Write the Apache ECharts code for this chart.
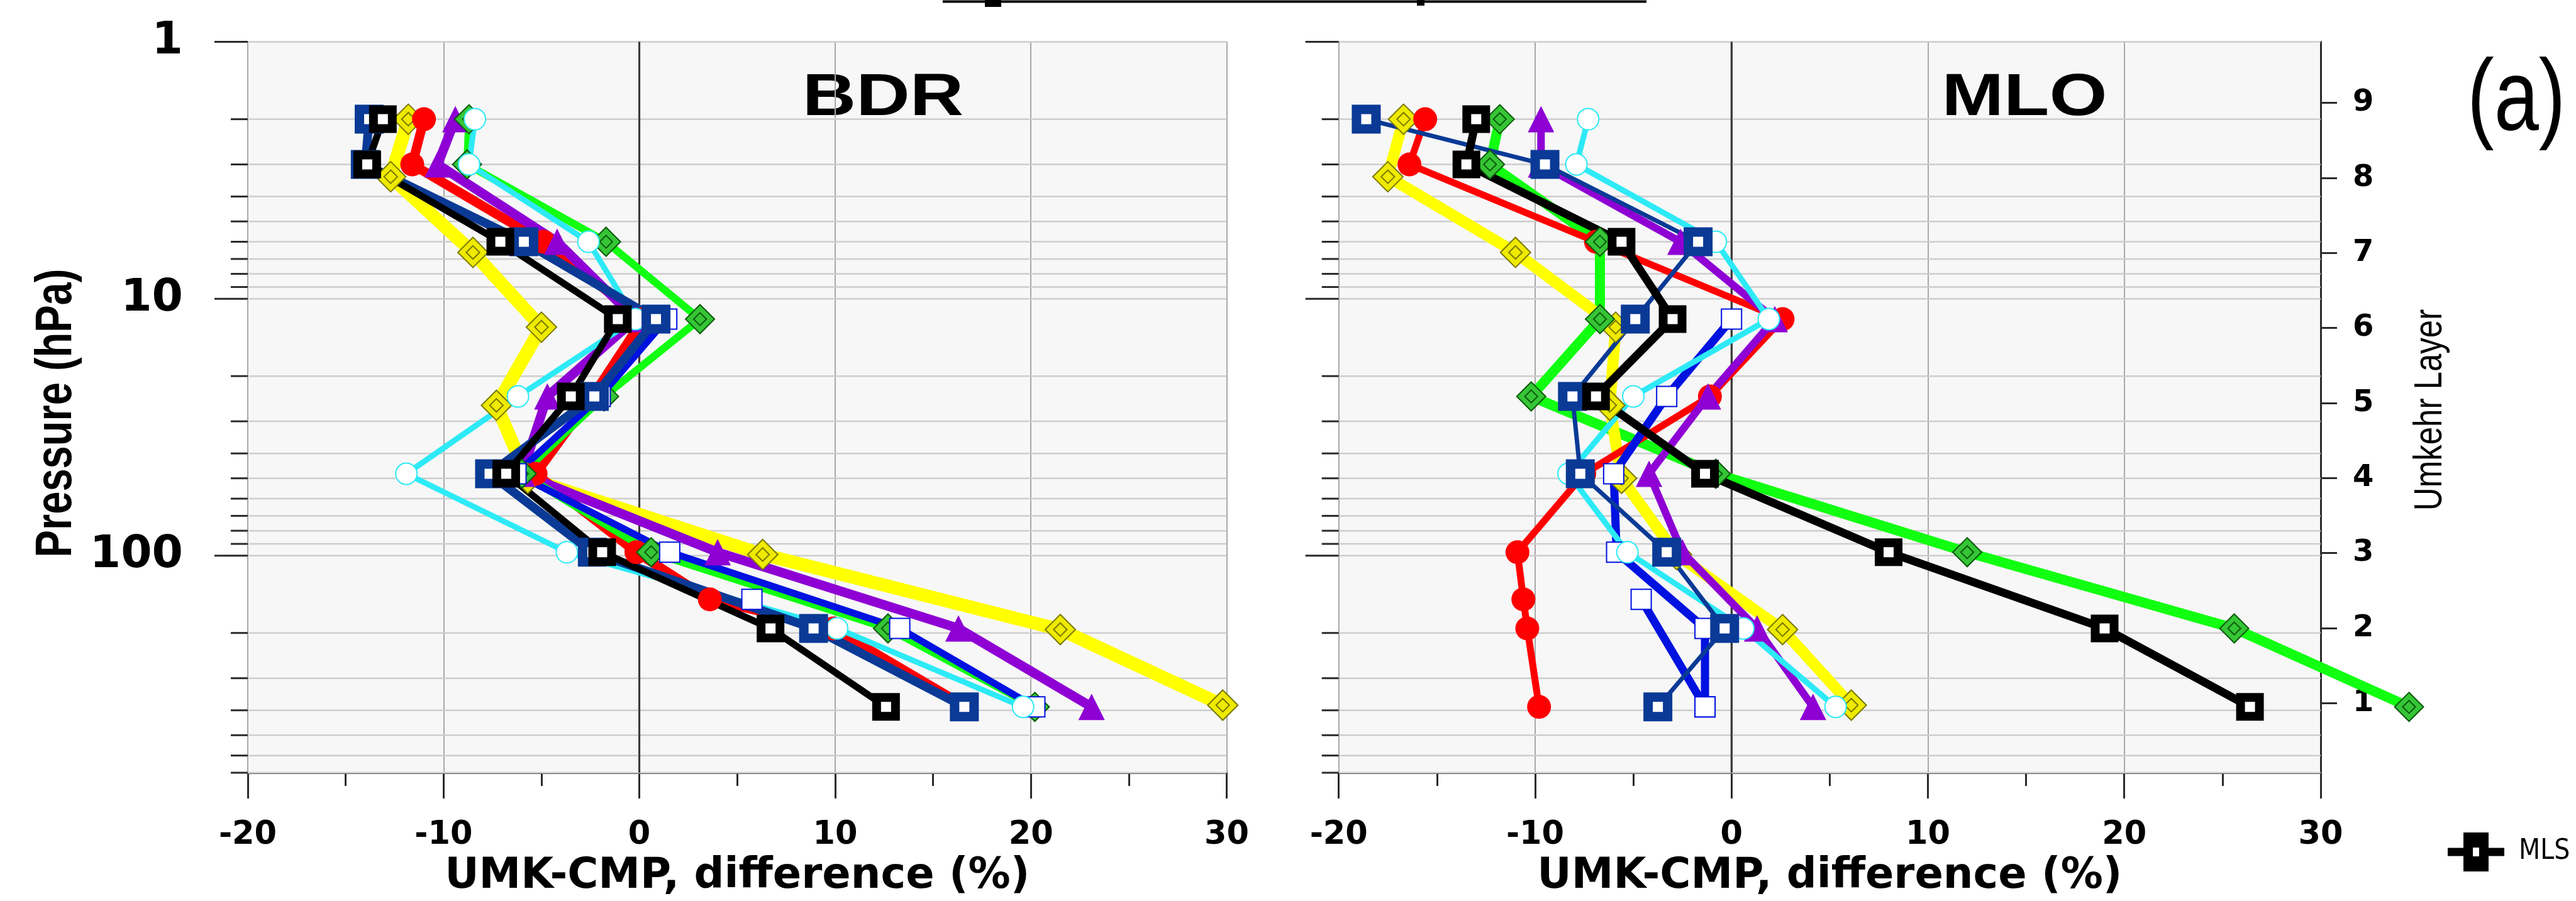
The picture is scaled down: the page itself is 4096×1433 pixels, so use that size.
<!DOCTYPE html>
<html>
<head>
<meta charset="utf-8">
<script src="https://cdn.jsdelivr.net/npm/echarts@6/dist/echarts.min.js"></script>
<style>
  html, body { margin: 0; padding: 0; background: #ffffff; }
  #chart { width: 4096px; height: 1433px; }
</style>
</head>
<body>
<div id="chart"></div>
<script>
// pressure (hPa) of the plotted points, top to bottom
var pLevels = [2, 3, 6, 12, 24, 48, 97, 192, 388];
var pLevelsDiamond = [2, 3.35, 6.6, 12.9, 26, 50, 99, 194, 382];
var pLevelsSonde = [2, 3, 6, 12, 24, 48, 97, 148, 192, 388];
var pLevelsLow = [12, 24, 48, 97, 192, 388];
var pLevelsExtra = [148, 388];

// axes
var xTicks = [-20, -10, 0, 10, 20, 30];
var pressureTicks = [1, 2, 3, 4, 5, 6, 7, 8, 9, 10, 20, 30, 40, 50, 60, 70, 80, 90, 100, 200, 300, 400, 500, 600, 700];
var pressureLabels = [1, 10, 100];
var layerTicks = [1, 2, 3, 4, 5, 6, 7, 8, 9];
var zeroLine = [0];

// BDR, UMK-CMP difference (%)
var bdrYellow = [-11.8, -12.7, -8.5, -5.0, -7.3, -5.7, 6.3, 21.5, 29.8];
var bdrRed = [-11.0, -11.6, -4.9, 0.2, -2.4, -5.3, -0.15, 3.6, 9.9, 16.7];
var bdrPurple = [-9.4, -10.3, -4.2, -0.2, -4.7, -6.0, 4.0, 16.3, 23.1];
var bdrGreen = [-8.7, -8.8, -1.7, 3.1, -1.8, -6.0, 0.6, 12.7, 20.2];
var bdrBlue = [1.4, -2.0, -6.3, 1.55, 13.3, 20.2];
var bdrBlueExtra = [5.75];
var bdrCyan = [-8.4, -8.7, -2.6, -0.2, -6.2, -11.9, -3.7, 10.1, 19.6];
var bdrNavy = [-13.8, -14.0, -5.9, 0.85, -2.3, -7.65, -2.4, 8.9, 16.6];
var bdrBlack = [-13.1, -13.9, -7.1, -1.1, -3.5, -6.8, -1.9, 6.7, 12.6];

// MLO, UMK-CMP difference (%)
var mloYellow = [-16.7, -17.5, -11.0, -5.9, -6.2, -5.6, -2.8, 2.6, 6.1];
var mloRed = [-15.6, -16.4, -6.9, 2.6, -1.1, -7.5, -10.9, -10.6, -10.4, -9.8];
var mloPurple = [-9.7, -9.7, -2.6, 2.2, -1.2, -4.2, -2.5, 1.3, 4.15];
var mloGreen = [-11.8, -12.3, -6.7, -6.7, -10.2, -0.8, 12.0, 25.6, 34.5];
var mloBlue = [0.0, -3.3, -6.0, -5.85, -1.35, -1.35];
var mloBlueExtra = [-4.6, -1.35];
var mloCyan = [-7.3, -7.9, -0.8, 1.9, -5.0, -8.3, -5.3, 0.6, 5.3];
var mloNavy = [-18.6, -9.5, -1.7, -4.9, -8.1, -7.7, -3.3, -0.35, -3.75];
var mloBlack = [-13.0, -13.5, -5.6, -3.0, -6.9, -1.35, 8.0, 19.0, 26.4];

var diamond = 'path://M0,-50L50,0L0,50L-50,0Z M0,-22L22,0L0,22L-22,0Z';
// legend sample: thick line through a black square with a small white hole
var mlsIcon = 'path://M0,24.5L25,24.5L25,0L65,0L65,24.5L90,24.5L90,37.5L65,37.5L65,62L25,62L25,37.5L0,37.5Z M40,24L40,38L50,38L50,24Z';

var looks = {
    yellow: { line: '#ffff00', width: [21, 18], symbol: diamond, size: 48, fill: '#eeea00', border: '#7a7800', bw: 2 },
    red: { line: '#ff0000', width: [15, 11], symbol: 'circle', size: 38, fill: '#ff0000', border: '#ff0000', bw: 0 },
    purple: { line: '#8e00d4', width: [15, 12], symbol: 'triangle', size: 42, fill: '#8e00d4', border: '#8e00d4', bw: 0 },
    green: { line: '#11ff11', width: [12, 16], symbol: diamond, size: 46, fill: '#35c535', border: '#0b5a0b', bw: 2 },
    blue: { line: '#0012e0', width: [11, 13], symbol: 'emptyRect', size: 32, fill: '#0012e0', bw: 5 },
    cyan: { line: '#2deaf6', width: [9, 9], symbol: 'emptyCircle', size: 34, fill: '#2deaf6', bw: 5 },
    navy: { line: '#0a3a96', width: [14, 7], symbol: 'rect', size: 31, fill: '#ffffff', border: '#0a3a96', bw: 15 },
    black: { line: '#000000', width: [11, 13], symbol: 'rect', size: 30, fill: '#ffffff', border: '#000000', bw: 14 }
};

function profile(name, panel, xs, ps, look, noLine) {
    var st = looks[look];
    var item = { color: st.fill, borderWidth: st.bw };
    if (st.border) item.borderColor = st.border;
    return {
        name: name,
        type: 'line',
        xAxisIndex: panel,
        yAxisIndex: panel,
        clip: false,
        silent: true,
        data: xs.map(function (x, i) { return [x, ps[i]]; }),
        symbol: st.symbol,
        symbolSize: st.size,
        lineStyle: { color: st.line, width: noLine ? 0 : st.width[panel], opacity: noLine ? 0 : 1, join: 'round', cap: 'round' },
        itemStyle: item,
        emphasis: { disabled: true }
    };
}

// line drawn segment by segment, so it may run past the axis end
function trace(panel, xs, ps, look) {
    var st = looks[look];
    var segs = [];
    for (var i = 0; i < xs.length - 1; i++) segs.push([xs[i], ps[i], xs[i + 1], ps[i + 1]]);
    return {
        type: 'custom',
        xAxisIndex: panel,
        yAxisIndex: panel,
        clip: false,
        silent: true,
        data: segs,
        renderItem: function (params, api) {
            var a = api.coord([api.value(0), api.value(1)]);
            var b = api.coord([api.value(2), api.value(3)]);
            return { type: 'line', shape: { x1: a[0], y1: a[1], x2: b[0], y2: b[1] },
                     style: { stroke: st.line, lineWidth: st.width[panel], lineCap: 'round' } };
        }
    };
}

// pressure ticks and gridlines, placed by the log axis
function pressureGrid(panel) {
    return {
        type: 'custom',
        xAxisIndex: panel,
        yAxisIndex: panel,
        z: 1,
        silent: true,
        data: pressureTicks.map(function (p) { return [0, p]; }),
        renderItem: function (params, api) {
            var cs = params.coordSys;
            var p = api.value(1);
            var y = api.coord([0, p])[1];
            var len = pressureLabels.indexOf(p) >= 0 ? 53 : 27;
            return {
                type: 'group',
                children: [
                    { type: 'line', shape: { x1: cs.x, y1: y, x2: cs.x + cs.width, y2: y },
                      style: { stroke: '#cdcdcd', lineWidth: 2.5 } },
                    { type: 'line', shape: { x1: cs.x - len, y1: y, x2: cs.x, y2: y },
                      style: { stroke: '#2b2b2b', lineWidth: 3 } }
                ]
            };
        }
    };
}

function zeroRule(panel) {
    return {
        type: 'custom',
        xAxisIndex: panel,
        yAxisIndex: panel,
        z: 1,
        silent: true,
        data: zeroLine.map(function (x) { return [x, 10]; }),
        renderItem: function (params, api) {
            var cs = params.coordSys;
            var x = api.coord([api.value(0), 10])[0];
            return { type: 'line', shape: { x1: x, y1: cs.y, x2: x, y2: cs.y + cs.height },
                     style: { stroke: '#3a3a3a', lineWidth: 3 } };
        }
    };
}

function xAxisFor(panel) {
    return {
        gridIndex: panel,
        type: 'value',
        min: xTicks[0],
        max: xTicks[xTicks.length - 1],
        interval: xTicks[1] - xTicks[0],
        axisLine: { show: true, onZero: false, lineStyle: { color: '#2b2b2b', width: 3 } },
        axisTick: { show: true, length: 41, lineStyle: { color: '#2b2b2b', width: 3 } },
        minorTick: { show: true, splitNumber: 2, length: 21, lineStyle: { color: '#2b2b2b', width: 3 } },
        axisLabel: { fontFamily: 'DejaVu Sans', fontWeight: 'bold', fontSize: 51, color: '#000', margin: 74 },
        splitLine: { show: true, lineStyle: { color: '#a8a8a8', width: 2 } },
        name: 'UMK-CMP, difference (%)',
        nameLocation: 'middle',
        nameGap: 132,
        nameTextStyle: { fontFamily: 'DejaVu Sans', fontWeight: 'bold', fontSize: 67, color: '#000' }
    };
}

function pressureAxis(panel, showLabels) {
    return {
        gridIndex: panel,
        type: 'log',
        logBase: 10,
        min: pressureTicks[0],
        max: pressureTicks[pressureTicks.length - 1],
        inverse: true,
        position: 'left',
        axisLine: { show: true, lineStyle: { color: '#2b2b2b', width: 3 } },
        axisTick: { show: false },
        splitLine: { show: false },
        axisLabel: {
            show: showLabels,
            fontFamily: 'DejaVu Sans', fontWeight: 'bold', fontSize: 71, color: '#000', margin: 103,
            formatter: function (v) {
                var r = Math.round(v);
                return (pressureLabels.indexOf(r) >= 0 && Math.abs(v - r) < 1e-6) ? String(r) : '';
            }
        }
    };
}

var series = [
    pressureGrid(0), pressureGrid(1), zeroRule(0), zeroRule(1),
    profile('BDR yellow', 0, bdrYellow, pLevelsDiamond, 'yellow'),
    profile('BDR red', 0, bdrRed, pLevelsSonde, 'red'),
    profile('BDR purple', 0, bdrPurple, pLevels, 'purple'),
    profile('BDR green', 0, bdrGreen, pLevels, 'green'),
    profile('BDR blue', 0, bdrBlue, pLevelsLow, 'blue'),
    profile('BDR blue extra', 0, bdrBlueExtra, pLevelsExtra, 'blue'),
    profile('BDR cyan', 0, bdrCyan, pLevels, 'cyan'),
    profile('BDR navy', 0, bdrNavy, pLevels, 'navy'),
    profile('MLS', 0, bdrBlack, pLevels, 'black'),
    profile('MLO yellow', 1, mloYellow, pLevelsDiamond, 'yellow'),
    profile('MLO red', 1, mloRed, pLevelsSonde, 'red'),
    profile('MLO purple', 1, mloPurple, pLevels, 'purple'),
    trace(1, mloGreen, pLevels, 'green'),
    profile('MLO green', 1, mloGreen, pLevels, 'green', true),
    profile('MLO blue', 1, mloBlue, pLevelsLow, 'blue'),
    profile('MLO blue extra', 1, mloBlueExtra, pLevelsExtra, 'blue'),
    profile('MLO cyan', 1, mloCyan, pLevels, 'cyan'),
    profile('MLO navy', 1, mloNavy, pLevels, 'navy'),
    profile('MLS', 1, mloBlack, pLevels, 'black')
];

var chart = echarts.init(document.getElementById('chart'), null, { renderer: 'canvas' });
chart.setOption({
    animation: false,
    backgroundColor: '#ffffff',
    grid: [
        { left: 394, top: 66.6, width: 1556.5, height: 1181.5, show: true, backgroundColor: '#f7f7f7', borderWidth: 0 },
        { left: 2128.7, top: 66.6, width: 1561.3, height: 1181.5, show: true, backgroundColor: '#f7f7f7', borderWidth: 0 }
    ],
    xAxis: [xAxisFor(0), xAxisFor(1)],
    yAxis: [
        pressureAxis(0, true),
        pressureAxis(1, false),
        {
            gridIndex: 1,
            type: 'value',
            position: 'right',
            min: 0.073,
            max: 9.814,
            axisLine: { show: true, lineStyle: { color: '#2b2b2b', width: 3 } },
            axisTick: { show: true, length: 26, customValues: layerTicks, lineStyle: { color: '#2b2b2b', width: 3 } },
            axisLabel: {
                customValues: layerTicks,
                fontFamily: 'DejaVu Sans', fontWeight: 'bold', fontSize: 48, color: '#000', margin: 51,
                formatter: function (v) { return Math.abs(v - Math.round(v)) < 1e-6 ? String(Math.round(v)) : ''; }
            },
            splitLine: { show: false }
        }
    ],
    legend: {
        data: [{ name: 'MLS', icon: mlsIcon }],
        left: 3887,
        top: 1319,
        itemWidth: 90,
        itemHeight: 62,
        selectedMode: false,
        itemStyle: { color: '#000000', borderWidth: 0 },
        textStyle: { fontFamily: '"DejaVu Sans Condensed", "Liberation Sans"', fontSize: 44, color: '#000', padding: [0, 0, 0, 18] }
    },
    graphic: [
        { type: 'line', shape: { x1: 1499, y1: 2.5, x2: 2618, y2: 2.5 }, style: { stroke: '#000', lineWidth: 4 } },
        { type: 'rect', shape: { x: 1566, y: 0, width: 26, height: 11 }, style: { fill: '#000' } },
        { type: 'rect', shape: { x: 2253, y: 0, width: 12, height: 9 }, style: { fill: '#000' } },
        { type: 'text', x: 1404, y: 157, scaleX: 1.26,
          style: { text: 'BDR', fontFamily: 'Liberation Sans', fontWeight: 'bold', fontSize: 94, fill: '#000', align: 'center', verticalAlign: 'middle' } },
        { type: 'text', x: 3219, y: 157, scaleX: 1.26,
          style: { text: 'MLO', fontFamily: 'Liberation Sans', fontWeight: 'bold', fontSize: 94, fill: '#000', align: 'center', verticalAlign: 'middle' } },
        { type: 'text', x: 91, y: 657, rotation: Math.PI / 2, scaleY: 1.25,
          style: { text: 'Pressure (hPa)', fontFamily: 'Liberation Sans', fontWeight: 'bold', fontSize: 65, fill: '#000', align: 'center', verticalAlign: 'middle' } },
        { type: 'text', x: 3864, y: 652, rotation: Math.PI / 2, scaleY: 1.25,
          style: { text: 'Umkehr Layer', fontFamily: 'Liberation Sans', fontSize: 51, fill: '#000', align: 'center', verticalAlign: 'middle' } },
        { type: 'text', x: 3923, y: 162, scaleX: 0.8,
          style: { text: '(a)', fontFamily: 'Liberation Sans', fontSize: 160, fill: '#000', align: 'left', verticalAlign: 'middle' } }
    ],
    series: series
});
</script>
</body>
</html>
